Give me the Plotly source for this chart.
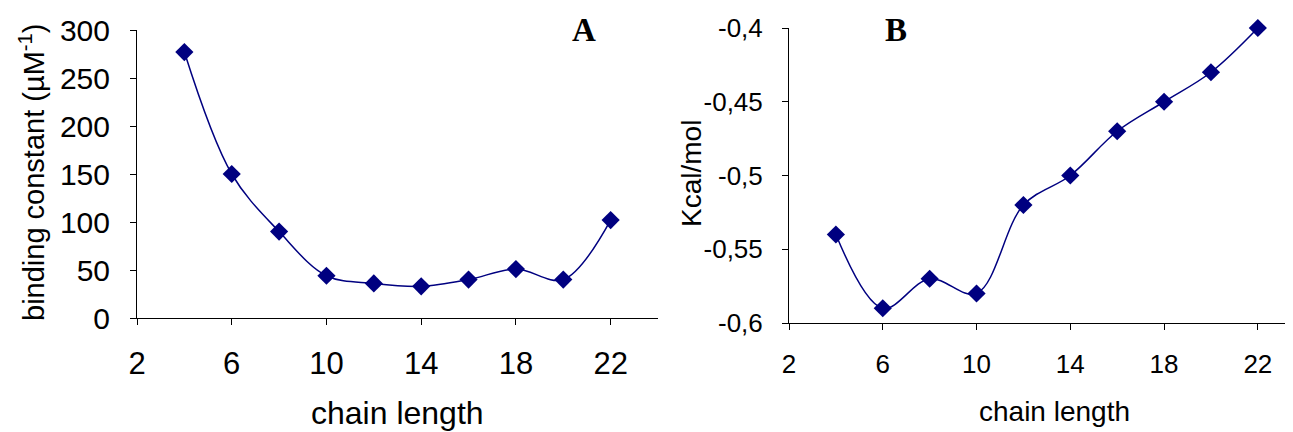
import plotly.graph_objects as go

# Data
chain_length = [4, 6, 8, 10, 12, 14, 16, 18, 20, 22]
binding_constant = [277, 150, 90, 44, 36, 33, 40, 51, 40, 102]
kcal_mol = [-0.54, -0.59, -0.57, -0.58, -0.52, -0.50, -0.47, -0.45, -0.43, -0.40]

x_ticks = [2, 6, 10, 14, 18, 22]
a_y_ticks = [0, 50, 100, 150, 200, 250, 300]
b_y_ticks = [-0.6, -0.55, -0.5, -0.45, -0.4]
b_y_ticktext = ["-0,6", "-0,55", "-0,5", "-0,45", "-0,4"]

# page body has an 8px margin: the figure sits at (8, 8) in the window
OFF = 8
W, H = 1293 - OFF, 432 - OFF
NAVY = "#000080"
FONT = "Arial, 'Liberation Sans', sans-serif"
SERIF = "'Times New Roman', 'Liberation Serif', serif"

def px(x):
    return (x - OFF) / W

def py(y):
    return 1 - (y - OFF) / H

fig = go.Figure()
fig.add_trace(go.Scatter(
    x=chain_length, y=binding_constant, mode="lines+markers",
    line=dict(color=NAVY, width=1.5, shape="spline", smoothing=1),
    marker=dict(symbol="diamond", size=14, color=NAVY),
    xaxis="x", yaxis="y", showlegend=False, cliponaxis=False))
fig.add_trace(go.Scatter(
    x=chain_length, y=kcal_mol, mode="lines+markers",
    line=dict(color=NAVY, width=1.5, shape="spline", smoothing=1),
    marker=dict(symbol="diamond", size=14, color=NAVY),
    xaxis="x2", yaxis="y2", showlegend=False, cliponaxis=False))

axis_common = dict(showline=True, linecolor="#000000", linewidth=1,
                   ticks="outside", ticklen=6, tickcolor="#000000",
                   showgrid=False, zeroline=False, fixedrange=True,
                   automargin=False)

fig.update_layout(
    width=W, height=H,
    margin=dict(l=0, r=0, t=0, b=0),
    paper_bgcolor="white", plot_bgcolor="white",
    font=dict(family=FONT, color="black"),
    xaxis=dict(domain=[px(137), px(658)], range=[2, 24], tickvals=x_ticks,
               tickfont=dict(size=31), anchor="y", ticklabelstandoff=12,
               **axis_common),
    yaxis=dict(domain=[py(318), py(30)], range=[0, 300], tickvals=a_y_ticks,
               tickfont=dict(size=30), anchor="x", ticklabelstandoff=14,
               **axis_common),
    xaxis2=dict(domain=[px(789), 1.0], range=[2, 23.5], tickvals=x_ticks,
                tickfont=dict(size=26), anchor="y2", ticklabelstandoff=12,
                **axis_common),
    yaxis2=dict(domain=[py(323), py(28)], range=[-0.6, -0.4], tickvals=b_y_ticks,
                ticktext=b_y_ticktext, tickfont=dict(size=26), anchor="x2",
                ticklabelstandoff=14, **axis_common),
    annotations=[
        dict(text="chain length", x=px(397), y=py(413), xref="paper", yref="paper",
             showarrow=False, font=dict(size=32), xanchor="center", yanchor="middle"),
        dict(text="chain length", x=px(1054), y=py(411), xref="paper", yref="paper",
             showarrow=False, font=dict(size=28), xanchor="center", yanchor="middle"),
        dict(text="binding constant (µM<sup>-1</sup>)", x=px(32), y=py(172),
             xref="paper", yref="paper", showarrow=False, textangle=-90,
             font=dict(size=29), xanchor="center", yanchor="middle"),
        dict(text="Kcal/mol", x=px(691), y=py(174), xref="paper", yref="paper",
             showarrow=False, textangle=-90, font=dict(size=28),
             xanchor="center", yanchor="middle"),
        dict(text="<b>A</b>", x=px(584), y=py(30), xref="paper", yref="paper",
             showarrow=False, font=dict(size=33, family=SERIF),
             xanchor="center", yanchor="middle"),
        dict(text="<b>B</b>", x=px(896), y=py(30), xref="paper", yref="paper",
             showarrow=False, font=dict(size=33, family=SERIF),
             xanchor="center", yanchor="middle"),
    ],
)

fig.write_html("out.html")
